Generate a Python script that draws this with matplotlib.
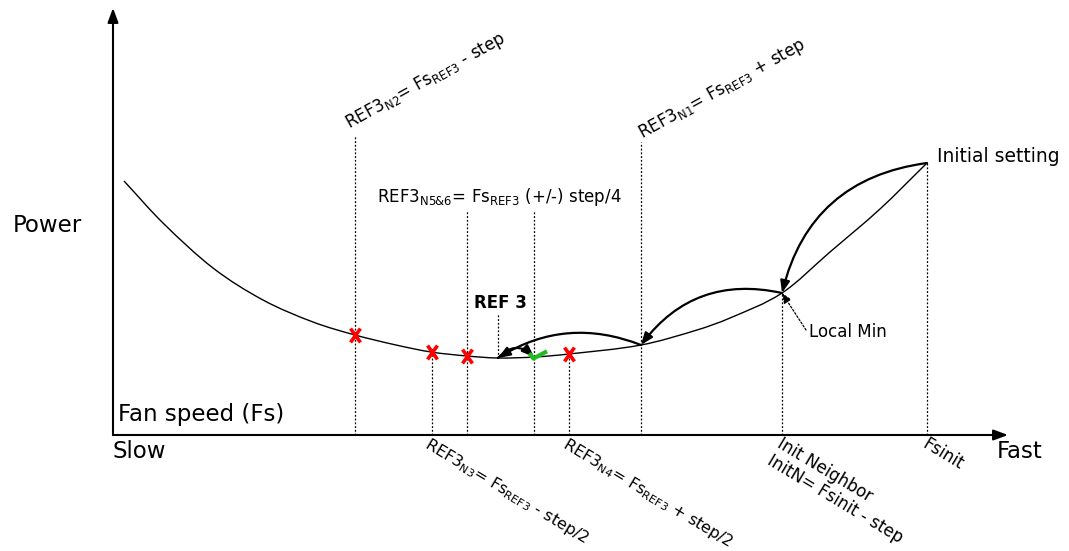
import numpy as np
import matplotlib.pyplot as plt
from matplotlib.path import Path
from matplotlib.patches import FancyArrowPatch, PathPatch

plt.rcParams['font.family'] = ['DejaVu Sans']
plt.rcParams['mathtext.default'] = 'regular'

# power curve vs fan speed (schematic units)
curve_fs = [11, 50, 100, 150, 200, 242, 283, 318, 354, 385, 422, 456, 528, 584, 617, 669, 717, 767, 814]
curve_power = [254, 212, 167, 135, 113, 100, 90, 83, 79, 77, 78, 81, 90, 105, 117, 142, 183, 226, 272]

# rejected neighbours (red crosses) and accepted one (green check)
fail_fs = [242, 319, 354, 456]
fail_power = [100, 83, 79, 81]
ok_fs = [421]
ok_power = [78]

# search path: initial -> local min -> N1 -> REF3 -> N5
search_fs = [814, 669, 528, 385, 421]
search_power = [272, 142, 90, 77, 78]
search_rad = [0.34, 0.32, 0.25, -0.5]

# dotted guide lines: x position, top of the line
guide_fs = [242, 319, 354, 421, 456, 528, 669, 814]
guide_top = [300, 83, 225, 225, 81, 293, 142, 272]


def smooth_path(xs, ys):
    # piecewise cubic through the read points, tangents from neighbouring slopes
    x = np.asarray(xs, float)
    y = np.asarray(ys, float)
    n = len(x)
    m = np.empty(n)
    m[1:-1] = (y[2:] - y[:-2]) / (x[2:] - x[:-2])
    m[0] = (y[1] - y[0]) / (x[1] - x[0])
    m[-1] = (y[-1] - y[-2]) / (x[-1] - x[-2])
    verts = [(x[0], y[0])]
    codes = [Path.MOVETO]
    for i in range(n - 1):
        h = (x[i + 1] - x[i]) / 3
        verts += [(x[i] + h, y[i] + m[i] * h), (x[i + 1] - h, y[i + 1] - m[i + 1] * h),
                  (x[i + 1], y[i + 1])]
        codes += [Path.CURVE4] * 3
    return Path(verts, codes)


fig = plt.figure(figsize=(10.69, 5.51), dpi=100)
ax = fig.add_axes([0, 0, 1, 1])
ax.set_xlim(-113, 956)
ax.set_ylim(-116, 435)
ax.axis('off')

# axes with arrow heads
axis_style = '-|>,head_length=0.86,head_width=0.32'
ax.add_patch(FancyArrowPatch((0, 0), (0, 427), arrowstyle=axis_style, mutation_scale=10,
                             lw=1.5, color='k', shrinkA=0, shrinkB=0))
ax.add_patch(FancyArrowPatch((0, 0), (895, 0), arrowstyle=axis_style, mutation_scale=10,
                             lw=1.5, color='k', shrinkA=0, shrinkB=0))

# dotted guides
dots = (0, (1.5, 1.5))
ax.vlines(guide_fs, 0, guide_top, colors='k', linestyles=dots, lw=0.9)
ax.vlines([search_fs[3]], search_power[3], 122, colors='k', linestyles=dots, lw=0.9)

# the power curve
ax.add_patch(PathPatch(smooth_path(curve_fs, curve_power), fill=False, lw=1.0, color='k'))

# search arrows
arc_style = '-|>,head_length=0.72,head_width=0.28'
for i, rad in enumerate(search_rad):
    ax.add_patch(FancyArrowPatch((search_fs[i], search_power[i]),
                                 (search_fs[i + 1], search_power[i + 1]),
                                 connectionstyle=f'arc3,rad={rad}', arrowstyle=arc_style,
                                 mutation_scale=10, lw=1.6, color='k',
                                 shrinkA=0, shrinkB=0))

# markers
x_marker = Path([(-5, -7), (5, 7), (-5, 7), (5, -7)],
                [Path.MOVETO, Path.LINETO, Path.MOVETO, Path.LINETO])
check_marker = Path([(-5, 4), (-1, -1), (12, 6)], [Path.MOVETO, Path.LINETO, Path.LINETO])
ax.plot(fail_fs, fail_power, ls='none', marker=x_marker, ms=10, mew=2.6,
        mec='#ff0000', mfc='none')
ax.plot(ok_fs, ok_power, ls='none', marker=check_marker, ms=18, mew=3,
        mec='#22bb22', mfc='none')

# local min pointer
ax.annotate('', xy=(669, 142), xytext=(693, 105),
            arrowprops=dict(arrowstyle='-|>,head_length=0.6,head_width=0.25', lw=0.9,
                            ls=dots, color='k', shrinkA=0, shrinkB=0,
                            mutation_scale=10))
ax.text(696, 103, 'Local Min', fontsize=12, va='center', ha='left')

# labels
ax.text(-66, 210, 'Power', fontsize=16.5, ha='center', va='center')
ax.text(5, 21, 'Fan speed (Fs)', fontsize=16.5, ha='left', va='center')
ax.text(0, -17, 'Slow', fontsize=16.5, ha='left', va='center')
ax.text(884, -17, 'Fast', fontsize=16.5, ha='left', va='center')
ax.text(824, 279, 'Initial setting', fontsize=13.5, ha='left', va='center')
ax.text(387, 132, 'REF 3', fontsize=12, fontweight='bold', ha='center', va='center')
ax.text(264, 238, r'REF3$_{N5&6}$= Fs$_{REF3}$ (+/-) step/4', fontsize=12,
        ha='left', va='center')

ax.text(236, 306, r'REF3$_{N2}$= Fs$_{REF3}$ - step', fontsize=12, rotation=29,
        rotation_mode='anchor', ha='left', va='baseline')
ax.text(529, 296, r'REF3$_{N1}$= Fs$_{REF3}$ + step', fontsize=12, rotation=29,
        rotation_mode='anchor', ha='left', va='baseline')

ax.text(318, 0, r'REF3$_{N3}$= Fs$_{REF3}$ - step/2', fontsize=11.5, rotation=-31,
        rotation_mode='anchor', ha='left', va='top')
ax.text(456, 0, r'REF3$_{N4}$= Fs$_{REF3}$ + step/2', fontsize=11.5, rotation=-31,
        rotation_mode='anchor', ha='left', va='top')
ax.text(670, 0, 'Init Neighbor\nInitN= Fsinit - step', fontsize=12, rotation=-31,
        rotation_mode='anchor', ha='left', va='top', linespacing=1.1)
ax.text(816, 0, 'Fsinit', fontsize=12, rotation=-31,
        rotation_mode='anchor', ha='left', va='top')

fig.savefig('out.png', dpi=100)
